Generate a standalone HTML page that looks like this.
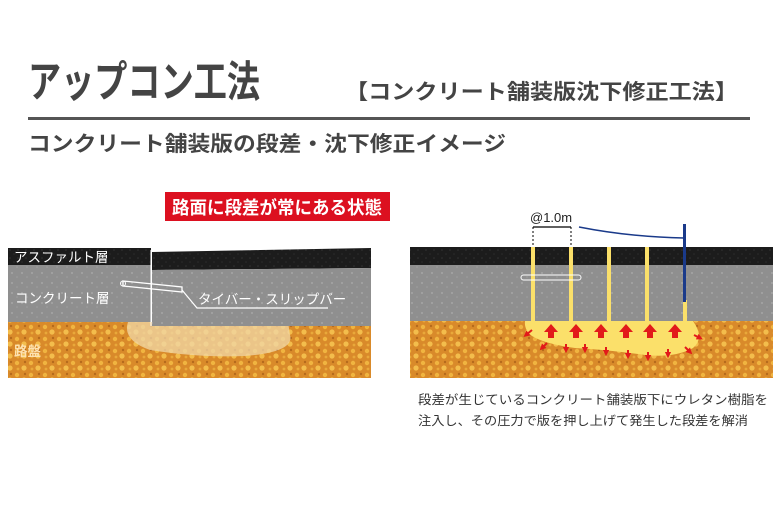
<!DOCTYPE html>
<html><head><meta charset="utf-8"><style>
html,body{margin:0;padding:0;background:#fff;}
svg{display:block;font-family:"Liberation Sans","Noto Sans CJK JP",sans-serif;}
</style></head><body>
<svg width="780" height="518" viewBox="0 0 780 518" xmlns="http://www.w3.org/2000/svg">
<defs>
<pattern id="grav" width="14" height="12" patternUnits="userSpaceOnUse">
<rect width="14" height="12" fill="#d98a2a"/>
<circle cx="3" cy="3" r="2.2" fill="#f0b440"/><circle cx="10" cy="8" r="2.6" fill="#f3bd4c"/><circle cx="11" cy="2" r="1.2" fill="#b56a1c"/><circle cx="4" cy="9" r="1.4" fill="#e9a83a"/>
</pattern>
<pattern id="conc" width="10" height="10" patternUnits="userSpaceOnUse">
<rect width="10" height="10" fill="#8f8f8f"/><circle cx="2" cy="3" r="1" fill="#a5a5a5"/><circle cx="7" cy="7" r="0.8" fill="#a0a0a0"/>
</pattern>
<pattern id="asph" width="8" height="8" patternUnits="userSpaceOnUse">
<rect width="8" height="8" fill="#1c1c1c"/><circle cx="2" cy="2" r="0.8" fill="#333"/><circle cx="6" cy="6" r="0.8" fill="#2c2c2c"/>
</pattern>
<marker id="ah" viewBox="0 0 10 10" refX="5" refY="5" markerWidth="3.2" markerHeight="3.2" orient="auto"><path d="M0 0 L10 5 L0 10 Z" fill="#e21a1a"/></marker>
</defs>
<text x="28" y="97" font-size="43" font-weight="bold" fill="#444" textLength="232" lengthAdjust="spacingAndGlyphs">アップコン工法</text>
<text x="345" y="99" font-size="21" font-weight="bold" fill="#444" textLength="393" lengthAdjust="spacingAndGlyphs">【コンクリート舗装版沈下修正工法】</text>
<rect x="28" y="117" width="722" height="3" fill="#555"/>
<text x="28" y="151" font-size="21" font-weight="bold" fill="#444" textLength="478" lengthAdjust="spacingAndGlyphs">コンクリート舗装版の段差・沈下修正イメージ</text>

<rect x="165" y="192" width="225" height="29" fill="#dc1020"/>
<text x="172" y="214" font-size="18" font-weight="bold" fill="#fff" textLength="210" lengthAdjust="spacingAndGlyphs">路面に段差が常にある状態</text>

<!-- left panel -->
<rect x="8" y="322" width="363" height="56" fill="url(#grav)"/>
<path d="M128 322 Q122 340 150 350 Q200 358 245 356 Q295 352 290 335 L288 322 Z" fill="#f0d8a8" opacity="0.75"/>
<rect x="8" y="248" width="143" height="17" fill="url(#asph)"/>
<rect x="8" y="265" width="143" height="57" fill="url(#conc)"/>
<polygon points="152,252 371,248 371,268 152,270" fill="url(#asph)"/>
<polygon points="152,270 371,268 371,326 152,326" fill="url(#conc)"/>
<line x1="151" y1="250" x2="151" y2="326" stroke="#fff" stroke-width="1"/>
<path d="M123 281 L182 287 L182 292 L123 286 Z" fill="none" stroke="#fff" stroke-width="1.3"/>
<circle cx="123" cy="283.5" r="2.5" fill="none" stroke="#fff" stroke-width="1"/>
<polyline points="182,290 197,308 328,308" fill="none" stroke="#fff" stroke-width="1.2"/>
<text x="14" y="262" font-size="13.5" fill="#fff">アスファルト層</text>
<text x="15" y="303" font-size="13.5" fill="#fff">コンクリート層</text>
<text x="198" y="304" font-size="13.5" fill="#fff">タイバー・スリップバー</text>
<text x="14" y="356" font-size="13.5" font-weight="bold" fill="#fde2b0">路盤</text>

<!-- right panel -->
<rect x="410" y="321" width="363" height="57" fill="url(#grav)"/>
<rect x="410" y="247" width="363" height="18" fill="url(#asph)"/>
<rect x="410" y="265" width="363" height="56" fill="url(#conc)"/>
<path d="M525 321 L693 321 Q705 338 693 348 Q675 358 645 355 Q610 350 575 348 Q545 344 532 336 Q524 330 525 321 Z" fill="#fbe06a"/>
<g fill="#fbe06a">
<rect x="531" y="247" width="4" height="75"/><rect x="569" y="247" width="4" height="75"/><rect x="607" y="247" width="4" height="75"/><rect x="645" y="247" width="4" height="75"/><rect x="683" y="300" width="4" height="22"/>
</g>
<rect x="683" y="224" width="3" height="78" fill="#1a3a8a"/>
<path d="M579 227 Q630 237 684 238" fill="none" stroke="#1a3a8a" stroke-width="1.5"/>
<rect x="521" y="275" width="60" height="5" rx="2.5" fill="none" stroke="#fff" stroke-width="1"/>
<line x1="533" y1="227" x2="571" y2="227" stroke="#000" stroke-width="1.2"/>
<line x1="533" y1="227" x2="533" y2="247" stroke="#000" stroke-dasharray="2,2"/>
<line x1="571" y1="227" x2="571" y2="247" stroke="#000" stroke-dasharray="2,2"/>
<text x="530" y="222" font-size="13" fill="#222">@1.0m</text>
<g fill="#e21a1a">
<polygon points="551,324 558,332 554,332 554,338 548,338 548,332 544,332"/>
<polygon points="576,324 583,332 579,332 579,338 573,338 573,332 569,332"/>
<polygon points="601,324 608,332 604,332 604,338 598,338 598,332 594,332"/>
<polygon points="626,324 633,332 629,332 629,338 623,338 623,332 619,332"/>
<polygon points="650,324 657,332 653,332 653,338 647,338 647,332 643,332"/>
<polygon points="675,324 682,332 678,332 678,338 672,338 672,332 668,332"/>
</g>
<g stroke="#e21a1a" stroke-width="2" fill="none" marker-end="url(#ah)">
<path d="M532 330 l-6 5"/><path d="M547 343 l-5 5"/><path d="M566 344 l0 6"/><path d="M585 344 l0 6"/><path d="M606 347 l0 6"/><path d="M628 350 l0 6"/><path d="M648 352 l0 6"/><path d="M668 349 l0 6"/><path d="M685 347 l5 5"/><path d="M694 335 l6 3"/>
</g>
<text x="418" y="404" font-size="12.5" fill="#333" textLength="350" lengthAdjust="spacingAndGlyphs">段差が生じているコンクリート舗装版下にウレタン樹脂を</text>
<text x="418" y="425" font-size="12.5" fill="#333" textLength="330" lengthAdjust="spacingAndGlyphs">注入し、その圧力で版を押し上げて発生した段差を解消</text>
</svg>
</body></html>
